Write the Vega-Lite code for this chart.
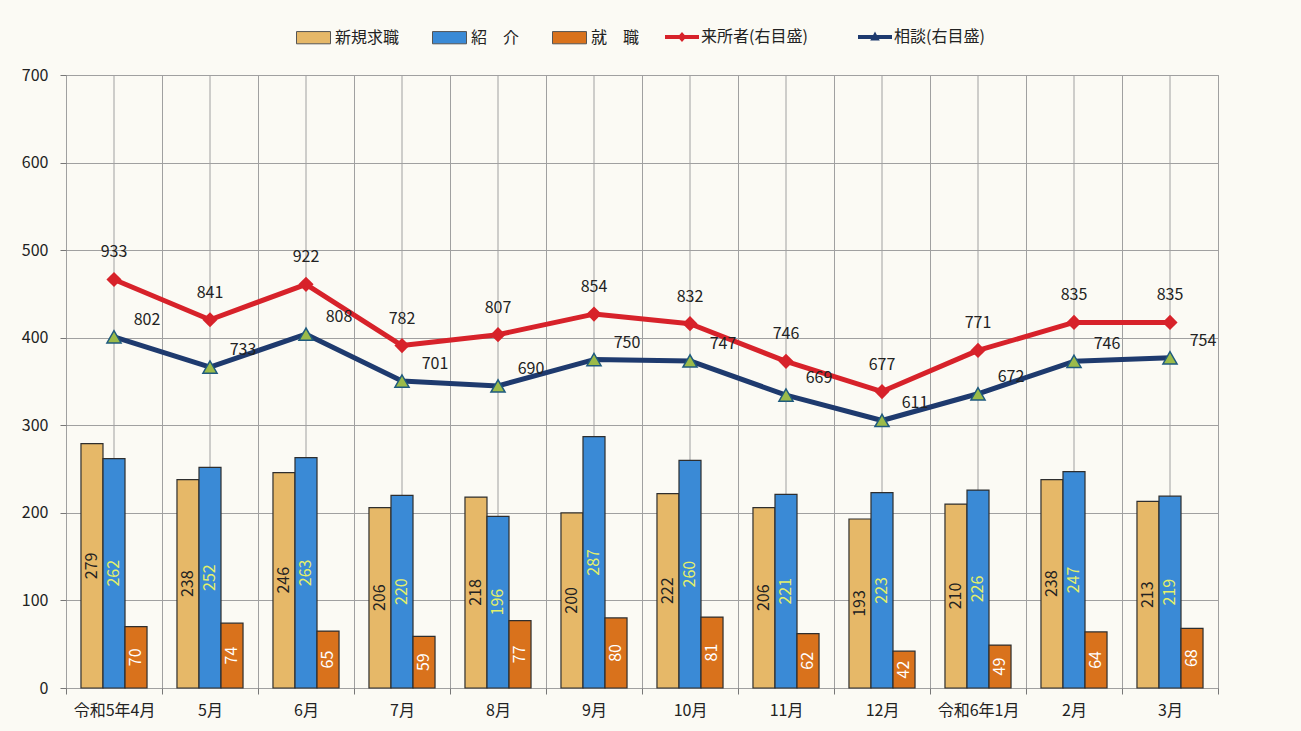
{
  "$schema": "https://vega.github.io/schema/vega-lite/v6.json",
  "width": 1152,
  "height": 613,
  "autosize": {"type": "none"},
  "padding": {"left": 66, "top": 75, "right": 83, "bottom": 43},
  "background": "#fbfaf4",
  "config": {
    "font": "Noto Sans CJK JP",
    "view": {"stroke": "#9a9a9a", "strokeWidth": 1},
    "axis": {"labelFontSize": 16, "labelColor": "#222", "labelFont": "Noto Sans CJK JP", "tickColor": "#777", "gridColor": "#a0a0a0", "gridOpacity": 1, "title": null},
    "legend": {"labelFontSize": 16, "labelColor": "#222", "labelFont": "Noto Sans CJK JP"}
  },
  "data": {
    "values": [
      {"month": "令和5年4月", "series": "新規求職", "value": 279},
      {"month": "5月", "series": "新規求職", "value": 238},
      {"month": "6月", "series": "新規求職", "value": 246},
      {"month": "7月", "series": "新規求職", "value": 206},
      {"month": "8月", "series": "新規求職", "value": 218},
      {"month": "9月", "series": "新規求職", "value": 200},
      {"month": "10月", "series": "新規求職", "value": 222},
      {"month": "11月", "series": "新規求職", "value": 206},
      {"month": "12月", "series": "新規求職", "value": 193},
      {"month": "令和6年1月", "series": "新規求職", "value": 210},
      {"month": "2月", "series": "新規求職", "value": 238},
      {"month": "3月", "series": "新規求職", "value": 213},
      {"month": "令和5年4月", "series": "紹　介", "value": 262},
      {"month": "5月", "series": "紹　介", "value": 252},
      {"month": "6月", "series": "紹　介", "value": 263},
      {"month": "7月", "series": "紹　介", "value": 220},
      {"month": "8月", "series": "紹　介", "value": 196},
      {"month": "9月", "series": "紹　介", "value": 287},
      {"month": "10月", "series": "紹　介", "value": 260},
      {"month": "11月", "series": "紹　介", "value": 221},
      {"month": "12月", "series": "紹　介", "value": 223},
      {"month": "令和6年1月", "series": "紹　介", "value": 226},
      {"month": "2月", "series": "紹　介", "value": 247},
      {"month": "3月", "series": "紹　介", "value": 219},
      {"month": "令和5年4月", "series": "就　職", "value": 70},
      {"month": "5月", "series": "就　職", "value": 74},
      {"month": "6月", "series": "就　職", "value": 65},
      {"month": "7月", "series": "就　職", "value": 59},
      {"month": "8月", "series": "就　職", "value": 77},
      {"month": "9月", "series": "就　職", "value": 80},
      {"month": "10月", "series": "就　職", "value": 81},
      {"month": "11月", "series": "就　職", "value": 62},
      {"month": "12月", "series": "就　職", "value": 42},
      {"month": "令和6年1月", "series": "就　職", "value": 49},
      {"month": "2月", "series": "就　職", "value": 64},
      {"month": "3月", "series": "就　職", "value": 68},
      {"month": "令和5年4月", "series": "来所者(右目盛)", "value": 933},
      {"month": "5月", "series": "来所者(右目盛)", "value": 841},
      {"month": "6月", "series": "来所者(右目盛)", "value": 922},
      {"month": "7月", "series": "来所者(右目盛)", "value": 782},
      {"month": "8月", "series": "来所者(右目盛)", "value": 807},
      {"month": "9月", "series": "来所者(右目盛)", "value": 854},
      {"month": "10月", "series": "来所者(右目盛)", "value": 832},
      {"month": "11月", "series": "来所者(右目盛)", "value": 746},
      {"month": "12月", "series": "来所者(右目盛)", "value": 677},
      {"month": "令和6年1月", "series": "来所者(右目盛)", "value": 771},
      {"month": "2月", "series": "来所者(右目盛)", "value": 835},
      {"month": "3月", "series": "来所者(右目盛)", "value": 835},
      {"month": "令和5年4月", "series": "相談(右目盛)", "value": 802},
      {"month": "5月", "series": "相談(右目盛)", "value": 733},
      {"month": "6月", "series": "相談(右目盛)", "value": 808},
      {"month": "7月", "series": "相談(右目盛)", "value": 701},
      {"month": "8月", "series": "相談(右目盛)", "value": 690},
      {"month": "9月", "series": "相談(右目盛)", "value": 750},
      {"month": "10月", "series": "相談(右目盛)", "value": 747},
      {"month": "11月", "series": "相談(右目盛)", "value": 669},
      {"month": "12月", "series": "相談(右目盛)", "value": 611},
      {"month": "令和6年1月", "series": "相談(右目盛)", "value": 672},
      {"month": "2月", "series": "相談(右目盛)", "value": 746},
      {"month": "3月", "series": "相談(右目盛)", "value": 754}
    ]
  },
  "encoding": {
    "x": {
      "field": "month", "type": "nominal", "sort": null,
      "scale": {"paddingInner": 0, "paddingOuter": 0},
      "axis": {"tickBand": "extent", "grid": true, "ticks": true, "tickSize": 6, "labelPadding": 8, "domain": false, "labelAngle": 0, "zindex": 0}
    }
  },
  "layer": [
    {
      "transform": [{"filter": {"field": "series", "oneOf": ["新規求職", "紹　介", "就　職"]}}],
      "layer": [
        {
          "transform": [{"filter": {"field": "series", "equal": "新規求職"}}],
          "mark": {"type": "rule", "color": "#a0a0a0", "strokeWidth": 1},
          "encoding": {}
        },
        {
          "mark": {"type": "bar", "stroke": "#2e2e2e", "strokeWidth": 1.2},
          "encoding": {
            "y": {"field": "value", "type": "quantitative", "scale": {"domain": [0, 700]},
              "axis": {"orient": "left", "values": [0, 100, 200, 300, 400, 500, 600, 700], "grid": true, "domain": false, "tickSize": 6, "labelPadding": 12, "zindex": 0}},
            "xOffset": {"field": "series", "type": "nominal", "scale": {"domain": ["新規求職", "紹　介", "就　職"], "paddingOuter": 0.68, "paddingInner": 0}},
            "fill": {"field": "series", "type": "nominal",
              "scale": {"domain": ["新規求職", "紹　介", "就　職"], "range": ["#e6b868", "#3a8ad6", "#d9721c"]},
              "legend": {"orient": "none", "legendX": 230, "legendY": -55, "direction": "horizontal", "title": null,
                "symbolType": "M-1,-0.36H1V0.36H-1Z", "symbolSize": 1156, "symbolStrokeColor": "#555", "symbolStrokeWidth": 1,
                "labelOffset": 4, "columnPadding": 30}}
          }
        }
      ]
    },
    {
      "layer": [
        {
          "transform": [{"filter": {"field": "series", "equal": "新規求職"}}],
          "mark": {"type": "text", "angle": 270, "align": "center", "baseline": "middle", "fontSize": 16, "color": "#222"},
          "encoding": {
            "y": {"field": "value", "type": "quantitative", "scale": {"domain": [0, 1400]}, "axis": null},
            "xOffset": {"field": "series", "type": "nominal", "scale": {"domain": ["新規求職", "紹　介", "就　職"], "paddingOuter": 0.68, "paddingInner": 0}},
            "text": {"field": "value", "type": "quantitative"}
          }
        },
        {
          "transform": [{"filter": {"field": "series", "equal": "紹　介"}}],
          "mark": {"type": "text", "angle": 270, "align": "center", "baseline": "middle", "fontSize": 16, "color": "#e4f06a"},
          "encoding": {
            "y": {"field": "value", "type": "quantitative", "scale": {"domain": [0, 1400]}, "axis": null},
            "xOffset": {"field": "series", "type": "nominal", "scale": {"domain": ["新規求職", "紹　介", "就　職"], "paddingOuter": 0.68, "paddingInner": 0}},
            "text": {"field": "value", "type": "quantitative"}
          }
        },
        {
          "transform": [{"filter": {"field": "series", "equal": "就　職"}}],
          "mark": {"type": "text", "angle": 270, "align": "center", "baseline": "middle", "fontSize": 16, "color": "#ffffff"},
          "encoding": {
            "y": {"field": "value", "type": "quantitative", "scale": {"domain": [0, 1400]}, "axis": null},
            "xOffset": {"field": "series", "type": "nominal", "scale": {"domain": ["新規求職", "紹　介", "就　職"], "paddingOuter": 0.68, "paddingInner": 0}},
            "text": {"field": "value", "type": "quantitative"}
          }
        },
        {
          "transform": [{"filter": {"field": "series", "oneOf": ["来所者(右目盛)", "相談(右目盛)"]}}],
          "mark": {"type": "line", "strokeWidth": 5, "strokeJoin": "round"},
          "encoding": {
            "y": {"field": "value", "type": "quantitative", "scale": {"domain": [0, 1400]},
              "axis": {"orient": "right", "values": [0, 200, 400, 600, 800, 1000, 1200, 1400], "format": ",", "grid": false, "domain": false, "tickSize": 7, "labelPadding": 11}},
            "stroke": {"field": "series", "type": "nominal",
              "scale": {"domain": ["来所者(右目盛)", "相談(右目盛)"], "range": ["#d7222a", "#1e3a6e"]},
              "legend": {"orient": "none", "legendX": 599, "legendY": -55, "direction": "horizontal", "title": null,
                "symbolSize": 1156, "labelOffset": 2, "columnPadding": 50,
                "encode": {"symbols": {"update": {
                  "shape": {"signal": "datum.value === '来所者(右目盛)' ? 'M-1,-0.12H1V0.12H-1Z M0,-0.3L0.26,0L0,0.3L-0.26,0Z' : 'M-1,-0.12H1V0.12H-1Z M0,-0.32L0.28,0.2H-0.28Z'"},
                  "fill": {"signal": "datum.value === '来所者(右目盛)' ? '#d7222a' : '#1e3a6e'"},
                  "strokeWidth": {"value": 0}
                }}}}}
          }
        },
        {
          "transform": [{"filter": {"field": "series", "equal": "来所者(右目盛)"}}],
          "mark": {"type": "point", "shape": "diamond", "size": 230, "filled": true, "color": "#d7222a", "opacity": 1},
          "encoding": {
            "y": {"field": "value", "type": "quantitative", "scale": {"domain": [0, 1400]}, "axis": null}
          }
        },
        {
          "transform": [{"filter": {"field": "series", "equal": "相談(右目盛)"}}],
          "mark": {"type": "point", "shape": "triangle-up", "size": 200, "filled": true, "fill": "#9bbb4a", "stroke": "#1e5a7e", "strokeWidth": 1.5, "opacity": 1},
          "encoding": {
            "y": {"field": "value", "type": "quantitative", "scale": {"domain": [0, 1400]}, "axis": null}
          }
        },
        {
          "transform": [{"filter": {"field": "series", "equal": "来所者(右目盛)"}}],
          "mark": {"type": "text", "dy": -27, "fontSize": 16, "color": "#222", "align": "center", "baseline": "middle"},
          "encoding": {
            "y": {"field": "value", "type": "quantitative", "scale": {"domain": [0, 1400]}, "axis": null},
            "text": {"field": "value", "type": "quantitative"}
          }
        },
        {
          "transform": [{"filter": {"field": "series", "equal": "相談(右目盛)"}}],
          "mark": {"type": "text", "dx": 33, "dy": -17, "fontSize": 16, "color": "#222", "align": "center", "baseline": "middle"},
          "encoding": {
            "y": {"field": "value", "type": "quantitative", "scale": {"domain": [0, 1400]}, "axis": null},
            "text": {"field": "value", "type": "quantitative"}
          }
        }
      ]
    }
  ],
  "resolve": {"scale": {"y": "independent"}}
}
